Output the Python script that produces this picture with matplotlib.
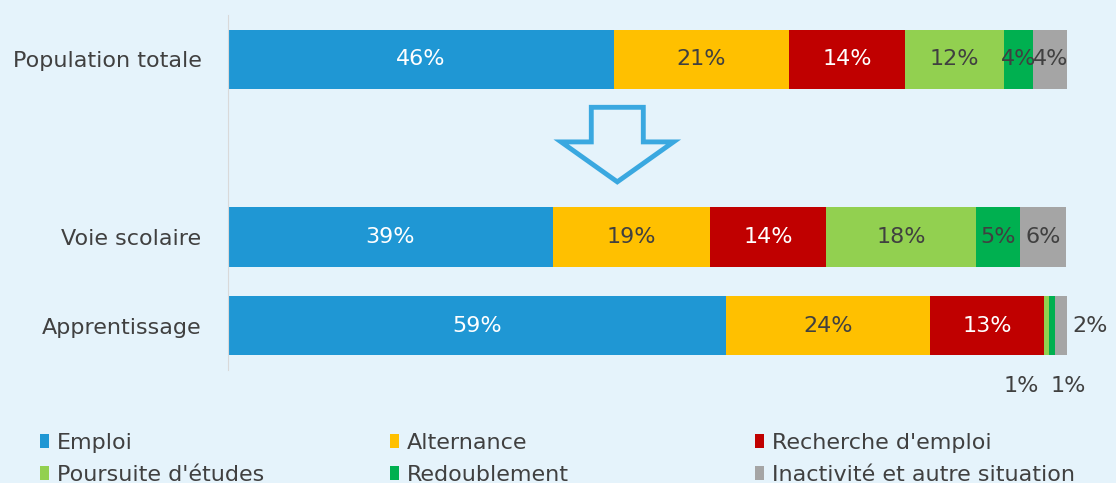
import matplotlib.pyplot as plt
from matplotlib.patches import Polygon

# --- Data ---
groups = ["Population totale", "Voie scolaire", "Apprentissage"]
group_pos = [0, 2, 3]
categories = ["Emploi", "Alternance", "Recherche d'emploi",
              "Poursuite d'études", "Redoublement", "Inactivité et autre situation"]
colors = ["#1F97D4", "#FFC000", "#C00000", "#92D050", "#00B050", "#A5A5A5"]
text_colors = ["white", "#404040", "white", "#404040", "#404040", "#404040"]

# shares per group (%)
values = [
    [46.0, 20.9, 13.8, 11.8, 3.5, 4.0],   # Population totale
    [38.7, 18.7, 13.9, 17.9, 5.2, 5.5],   # Voie scolaire
    [59.4, 24.3, 13.5, 0.7, 0.7, 1.4],    # Apprentissage
]
labels = [
    ["46%", "21%", "14%", "12%", "4%", "4%"],
    ["39%", "19%", "14%", "18%", "5%", "6%"],
    ["59%", "24%", "13%", "1%", "1%", "2%"],
]

BG = "#E5F3FB"
GREY_TXT = "#404040"
plt.rcParams['font.family'] = ['DejaVu Sans']

fig = plt.figure(figsize=(11.16, 4.83), dpi=100, facecolor=BG)
ax = fig.add_axes([228 / 1116, 1 - 370 / 483, (1067 - 228) / 1116, 355 / 483])
ax.set_facecolor(BG)

handles = []
for j, cat in enumerate(categories):
    lefts = [sum(v[:j]) for v in values]
    widths = [v[j] for v in values]
    bars = ax.barh(group_pos, widths, left=lefts, height=0.67,
                   color=colors[j], label=cat)
    handles.append(bars)
    for i, (l, w) in enumerate(zip(lefts, widths)):
        if w < 2:
            continue
        ax.text(l + w / 2, group_pos[i], labels[i][j], ha="center", va="center",
                fontsize=16, color=text_colors[j])

# small segments of Apprentissage labelled outside the bar
ax.text(100.6, group_pos[2], labels[2][5], ha="left", va="center",
        fontsize=16, color=GREY_TXT, clip_on=False)
ax.text(94.6, 3.68, labels[2][3], ha="center", va="center",
        fontsize=16, color=GREY_TXT, clip_on=False)
ax.text(100.1, 3.68, labels[2][4], ha="center", va="center",
        fontsize=16, color=GREY_TXT, clip_on=False)

# down arrow between total and breakdown
cx = 46.4
arrow = Polygon([(cx - 3.1, 0.54), (cx + 3.1, 0.54), (cx + 3.1, 0.93),
                 (cx + 6.7, 0.93), (cx, 1.38), (cx - 6.7, 0.93), (cx - 3.1, 0.93)],
                closed=True, facecolor="none", edgecolor="#3AA8E0", linewidth=3.5)
ax.add_patch(arrow)

ax.set_xlim(0, 100)
ax.set_ylim(3.5, -0.5)
ax.set_yticks(group_pos)
ax.set_yticklabels(groups, fontsize=16, color=GREY_TXT)
ax.tick_params(axis="y", length=0, pad=19)
ax.set_xticks([])
for s in ["top", "right", "bottom"]:
    ax.spines[s].set_visible(False)
ax.spines["left"].set_color("#D9D9D9")

# legend: three columns placed at fixed x positions, filled row by row
col_x = [40, 390, 755]
for c in range(3):
    idx = [c, c + 3]
    fig.legend([handles[k] for k in idx], [categories[k] for k in idx],
               ncol=1, loc="upper left",
               bbox_to_anchor=(col_x[c] / 1116, 1 - 433 / 483),
               frameon=False, fontsize=16, handlelength=0.4,
               handleheight=0.6, handletextpad=0.36, labelspacing=0.52,
               borderpad=0, borderaxespad=0, labelcolor=GREY_TXT)

fig.savefig("out.png", dpi=100, facecolor=BG)
